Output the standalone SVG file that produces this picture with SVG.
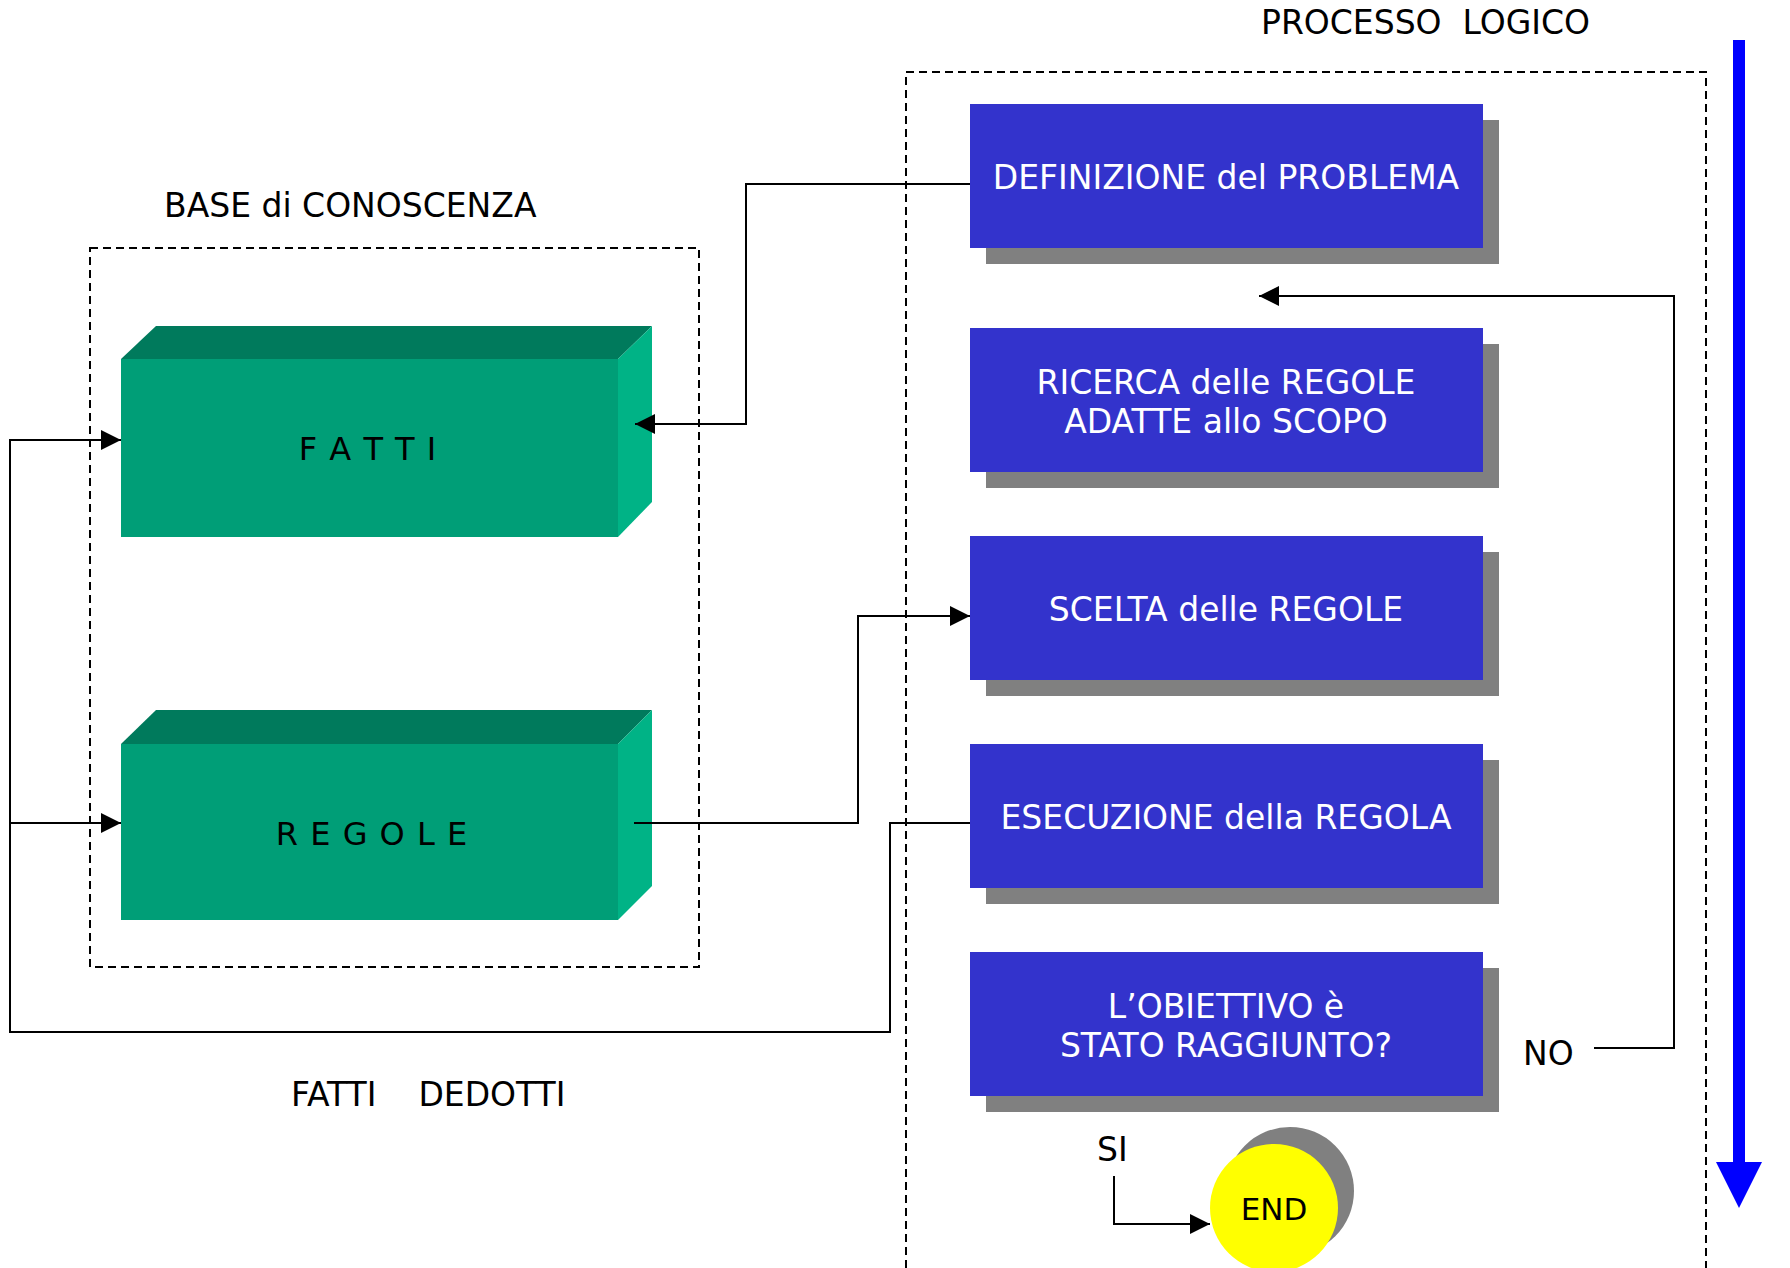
<svg xmlns="http://www.w3.org/2000/svg" width="1790" height="1268" viewBox="0 0 1790 1268">
<style>
text{font-family:"DejaVu Sans","Liberation Sans",sans-serif;}
.lbl{font-size:33px;fill:#000;}
.bt{font-size:33px;fill:#fff;text-anchor:middle;}
.gt{font-size:32px;fill:#000;text-anchor:middle;letter-spacing:1px;}
.box{fill:#3333CC;}
.sh{fill:#808080;}
.front{fill:#009E77;}
.top{fill:#007A5C;}
.side{fill:#00B386;}
.dash{fill:none;stroke:#000;stroke-width:2;stroke-dasharray:8 5;}
.con{fill:none;stroke:#000;stroke-width:2;}
</style>
<defs>
<marker id="ah" markerUnits="userSpaceOnUse" markerWidth="20" markerHeight="20" refX="20" refY="10" orient="auto">
<path d="M0,0 L20,10 L0,20 Z" fill="#000"/>
</marker>
</defs>
<rect width="1790" height="1268" fill="#fff"/>

<g id="labels">
<text class="lbl" x="1261" y="34" xml:space="preserve">PROCESSO  LOGICO</text>
<text class="lbl" x="164" y="217">BASE di CONOSCENZA</text>
<text class="lbl" x="291" y="1106" xml:space="preserve">FATTI    DEDOTTI</text>
<text class="lbl" x="1523" y="1065">NO</text>
<text class="lbl" x="1097" y="1161">SI</text>
</g>

<g id="base-box"><rect class="dash" x="90" y="248" width="609" height="719"/></g>
<g id="process-box"><path class="dash" d="M906,1268 V72 H1706 V1268"/></g>

<g id="fatti">
<polygon class="top" points="121,359 156,326 652,326 618,359"/>
<polygon class="side" points="618,359 652,326 652,502 618,537"/>
<rect class="front" x="121" y="359" width="497" height="178"/>
<text class="gt" x="368" y="460">F A T T I</text>
</g>

<g id="regole">
<polygon class="top" points="121,744 156,710 652,710 618,744"/>
<polygon class="side" points="618,744 652,710 652,886 618,920"/>
<rect class="front" x="121" y="744" width="497" height="176"/>
<text class="gt" x="372" y="845">R E G O L E</text>
</g>

<g id="definizione">
<rect class="sh" x="986" y="120" width="513" height="144"/>
<rect class="box" x="970" y="104" width="513" height="144"/>
<text class="bt" x="1226" y="189">DEFINIZIONE del PROBLEMA</text>
</g>

<g id="ricerca">
<rect class="sh" x="986" y="344" width="513" height="144"/>
<rect class="box" x="970" y="328" width="513" height="144"/>
<text class="bt" x="1226" y="394">RICERCA delle REGOLE</text>
<text class="bt" x="1226" y="433">ADATTE allo SCOPO</text>
</g>

<g id="scelta">
<rect class="sh" x="986" y="552" width="513" height="144"/>
<rect class="box" x="970" y="536" width="513" height="144"/>
<text class="bt" x="1226" y="621">SCELTA delle REGOLE</text>
</g>

<g id="esecuzione">
<rect class="sh" x="986" y="760" width="513" height="144"/>
<rect class="box" x="970" y="744" width="513" height="144"/>
<text class="bt" x="1226" y="829">ESECUZIONE della REGOLA</text>
</g>

<g id="obiettivo">
<rect class="sh" x="986" y="968" width="513" height="144"/>
<rect class="box" x="970" y="952" width="513" height="144"/>
<text class="bt" x="1226" y="1018">L’OBIETTIVO è</text>
<text class="bt" x="1226" y="1057">STATO RAGGIUNTO?</text>
</g>

<g id="end">
<circle cx="1290" cy="1191" r="64" fill="#808080"/>
<circle cx="1274" cy="1208" r="64" fill="#FFFF00"/>
<text x="1274" y="1220" font-size="31" text-anchor="middle" fill="#000">END</text>
</g>

<g id="flow-arrow">
<rect x="1733" y="40" width="12" height="1124" fill="#0000FF"/>
<polygon points="1716,1162 1762,1162 1739,1208" fill="#0000FF"/>
</g>

<g id="connectors">
<path class="con" d="M970,184 H746 V424 H635" marker-end="url(#ah)"/>
<path class="con" d="M970,823 H890 V1032 H10 V440 H121" marker-end="url(#ah)"/>
<path class="con" d="M10,823 H121" marker-end="url(#ah)"/>
<path class="con" d="M634,823 H858 V616 H970" marker-end="url(#ah)"/>
<path class="con" d="M1594,1048 H1674 V296 H1259" marker-end="url(#ah)"/>
<path class="con" d="M1114,1176 V1224 H1210" marker-end="url(#ah)"/>
</g>
</svg>
